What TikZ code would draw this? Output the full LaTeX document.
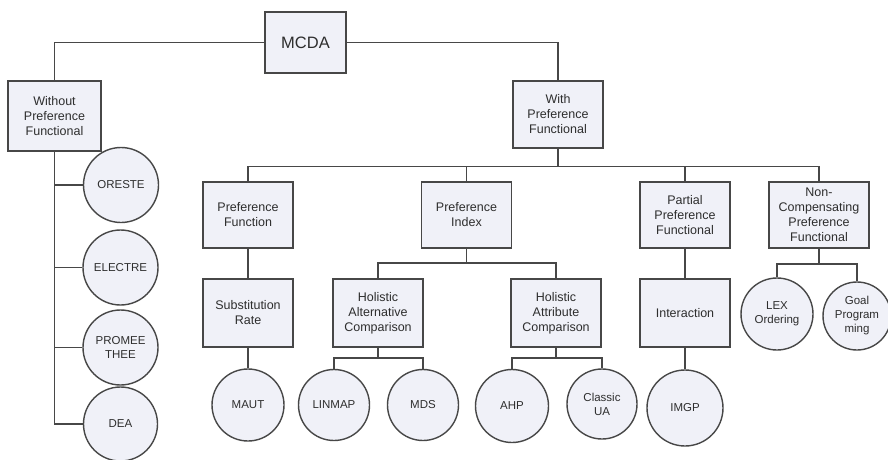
\documentclass[tikz,border=0pt]{standalone}
\usepackage{fontspec}
\setmainfont{Liberation Sans}
\usepackage{tikz}
\definecolor{boxfill}{HTML}{F0F1F8}
\definecolor{edgegray}{HTML}{474747}
\definecolor{textgray}{HTML}{2E2E2E}
\tikzset{
    box/.style={rectangle,draw=edgegray,fill=boxfill,text=textgray,align=center,
        minimum width=90pt,minimum height=67pt,inner sep=2pt,font=\fontsize{12.5}{15}\selectfont},
    topbox/.style={box,minimum width=81pt,minimum height=61pt,font=\fontsize{16.5}{19}\selectfont},
    leaf/.style={circle,draw=edgegray,fill=boxfill,text=textgray,align=center,
        minimum size=73pt,inner sep=0pt,font=\fontsize{11.5}{14}\selectfont},
    link/.style={draw=edgegray,line width=1.5pt}}

\begin{document}
\begin{tikzpicture}[x=1pt,y=-1pt,line width=1.4pt]
\useasboundingbox (0,0) rectangle (888,460);
% root and the two families
\node[topbox] (mcda) at (305.5,42.5) {MCDA};
\node[box,minimum width=93pt,minimum height=70pt] (wo) at (54.5,116) {Without\\Preference\\Functional};
\node[box] (with) at (558,114.5) {With\\Preference\\Functional};
\node[box,minimum height=66pt] (pf)  at (248,215)   {Preference\\Function};
\node[box,minimum height=66pt] (pi)  at (466.5,215) {Preference\\Index};
\node[box,minimum height=66pt] (ppf) at (685,215)   {Partial\\Preference\\Functional};
\node[box,minimum height=66pt,minimum width=100pt] (ncp) at (819,215) {Non-\\Compensating\\Preference\\Functional};
\node[box,minimum height=68pt] (sr)    at (248,313) {Substitution\\Rate};
\node[box,minimum height=68pt] (hac)   at (378,313) {Holistic\\Alternative\\Comparison};
\node[box,minimum height=68pt] (hatc)  at (556,313) {Holistic\\Attribute\\Comparison};
\node[box,minimum height=68pt] (inter) at (685,313) {Interaction};
% methods
\node[leaf,minimum size=75pt] (oreste)  at (121,185)   {ORESTE};
\node[leaf,minimum size=75pt] (electre) at (120.5,267.5) {ELECTRE};
\node[leaf,minimum size=75pt] (prom)    at (120.5,347.5) {PROMEE\\THEE};
\node[leaf,minimum size=74pt] (dea)     at (120.5,424) {DEA};
\node[leaf,minimum size=72pt] (maut)    at (248,405)   {MAUT};
\node[leaf,minimum size=71pt] (linmap)  at (334,405)   {LINMAP};
\node[leaf,minimum size=71pt] (mds)     at (423,405)   {MDS};
\node[leaf] (ahp)     at (512,406)   {AHP};
\node[leaf,minimum size=70pt] (cua)     at (602,404)   {Classic\\UA};
\node[leaf,minimum size=76pt] (imgp)    at (685,408)   {IMGP};
\node[leaf,minimum size=72pt] (lex)     at (777,314)   {LEX\\Ordering};
\node[leaf,minimum size=68pt] (goal)    at (857,316)   {Goal\\Program\\ming};

\coordinate (wj)  at (558,166.5);
\coordinate (pij) at (466.5,263);
\coordinate (haj) at (378,358);
\coordinate (htj) at (556,358);
\coordinate (ncj) at (819,264);
\coordinate (woend) at (54.5,424);

\draw[link] (mcda.west) -| (wo.north);
\draw[link] (mcda.east) -| (with.north);
\draw[link] (wo.south) -- (woend) -- (dea.west);
\draw[link] (oreste.west) -- (oreste.west -| wo.south);
\draw[link] (electre.west) -- (electre.west -| wo.south);
\draw[link] (prom.west) -- (prom.west -| wo.south);
\draw[link] (with.south) -- (wj);
\draw[link] (pf.north) |- (wj) -| (ncp.north);
\draw[link] (pi.north) -- (pi.north |- wj);
\draw[link] (ppf.north) -- (ppf.north |- wj);
\draw[link] (pf) -- (sr) -- (maut);
\draw[link] (pi.south) -- (pij);
\draw[link] (hac.north) |- (pij) -| (hatc.north);
\draw[link] (hac.south) -- (haj);
\draw[link] (linmap.north) |- (haj) -| (mds.north);
\draw[link] (hatc.south) -- (htj);
\draw[link] (ahp.north) |- (htj) -| (cua.north);
\draw[link] (ppf) -- (inter) -- (imgp);
\draw[link] (ncp.south) -- (ncj);
\draw[link] (lex.north) |- (ncj) -| (goal.north);
\end{tikzpicture}
\end{document}
